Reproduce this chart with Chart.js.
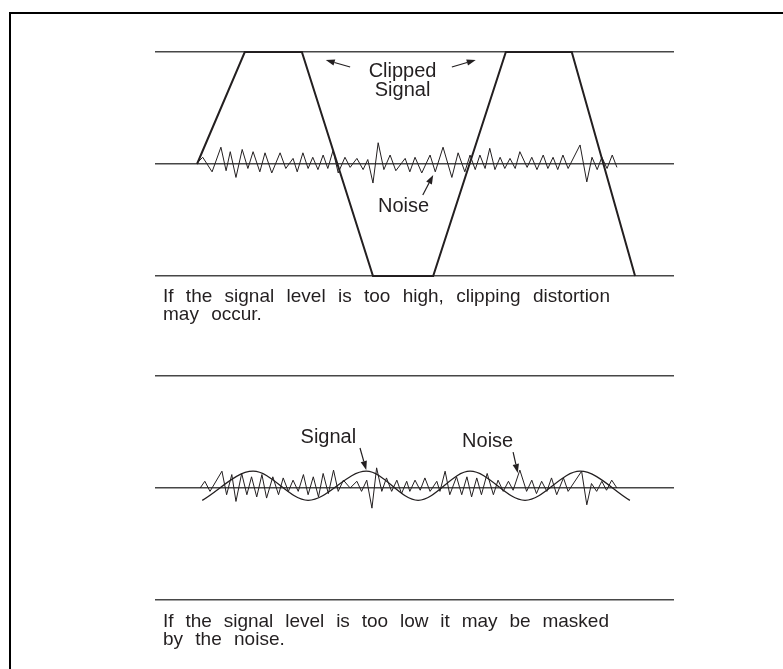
<!DOCTYPE html>
<html>
<head>
<meta charset="utf-8">
<script src="https://cdn.jsdelivr.net/npm/chart.js@4.4.0/dist/chart.umd.min.js"></script>
<style>
  html, body { margin: 0; padding: 0; background: #fff; }
  body { width: 783px; height: 669px; position: relative; overflow: hidden;
         font-family: "Liberation Sans", Arial, Helvetica, sans-serif; color: #231f20; }
  .frame { position: absolute; left: 9px; top: 12px; right: -10px; bottom: -10px;
           border-top: 2px solid #000; border-left: 2px solid #000; }
  canvas { position: absolute; left: 0; }
  #top { top: 0; }
  #bottom { top: 330px; }
  .caption { position: absolute; left: 163px; font-size: 19px; line-height: 18px; word-spacing: 7px; }
  .caption span { display: block; white-space: nowrap; }
  .caption .full { width: 447px; white-space: normal; text-align: justify; text-align-last: justify; word-spacing: 0; }
</style>
</head>
<body>
<div class="frame"></div>
<canvas id="top" width="783" height="300"></canvas>
<canvas id="bottom" width="783" height="300"></canvas>
<div class="caption" style="top:287px">
  <span class="full">If the signal level is too high, clipping distortion</span>
  <span>may occur.</span>
</div>
<div class="caption" style="top:612px">
  <span class="full" style="width:446px">If the signal level is too low it may be masked</span>
  <span>by the noise.</span>
</div>
<script>
// time axis runs 0..100, level axis -100..100 (percent of full scale)

// top panel: clipped signal
const clippedX = [8.1, 17.3, 28.3, 42.0, 53.6, 67.6, 80.3, 92.5];
const clippedY = [0, 100, 100, -100, -100, 100, 100, -100];

const noiseTopX = [8.1, 9.2, 11.0, 12.7, 13.7, 14.5, 15.6, 16.8, 17.9, 18.9,
  20.2, 21.2, 22.5, 24.1, 25.2, 26.6, 27.4, 28.5, 29.5, 30.4,
  31.4, 32.4, 33.3, 34.3, 35.3, 36.6, 37.6, 38.9, 40.1, 41.0,
  42.0, 43.0, 44.1, 45.3, 46.4, 48.2, 49.1, 50.1, 51.4, 53.0,
  54.0, 55.5, 57.2, 58.4, 59.7, 60.7, 61.7, 62.6, 63.6, 64.5,
  65.5, 66.5, 67.4, 68.4, 69.4, 70.3, 71.7, 72.6, 73.6, 74.8,
  75.7, 76.7, 77.6, 78.6, 79.6, 81.9, 83.2, 84.2, 85.2, 86.1,
  87.1, 88.1, 89.0];
const noiseTopY = [1, 6, -7, 15, -6, 11, -12, 13, -4, 11,
  -7, 10, -8, 10, -4, 5, -7, 10, -4, 6,
  -5, 8, -4, 12, -8, 6, -3, 5, -5, 4,
  -17, 19, -5, 8, -6, 5, -7, 6, -8, 8,
  -7, 15, -12, 10, -7, 8, -5, 8, -4, 14,
  -5, 6, -4, 5, -4, 11, -3, 6, -5, 8,
  -4, 6, -5, 8, -4, 17, -16, 6, -5, 6,
  -4, 8, -3];

// bottom panel: low signal
const sineX = [9.1, 18.9, 29.5, 40.7, 50.7, 60.7, 71.3, 81.9, 91.5];
const sineY = [-11, 15, -11, 15, -11, 15, -11, 15, -11];

const noiseLowX = [8.7, 9.6, 10.6, 12.9, 13.8, 14.8, 15.6, 16.7, 17.7, 18.6,
  19.6, 20.6, 21.5, 22.7, 23.8, 24.7, 25.7, 26.6, 27.6, 28.6,
  29.5, 30.5, 31.5, 32.4, 33.4, 34.4, 35.3, 36.3, 37.6, 38.9,
  39.8, 40.8, 41.8, 42.7, 43.7, 44.6, 45.6, 46.6, 47.5, 48.5,
  49.1, 50.1, 51.1, 52.0, 53.0, 54.3, 54.9, 55.9, 56.8, 58.1,
  59.1, 60.1, 61.0, 62.0, 62.9, 64.0, 65.2, 66.1, 67.1, 68.1,
  69.0, 70.3, 71.6, 72.6, 73.5, 74.5, 75.5, 76.4, 77.4, 78.7,
  79.6, 82.2, 83.2, 84.1, 85.1, 86.1, 87.0, 88.0, 89.0];
const noiseLowY = [0, 6, -3, 15, -6, 12, -12, 13, -6, 10,
  -8, 12, -9, 10, -6, 9, -3, 7, -3, 12,
  -6, 10, -8, 13, -5, 16, -3, 7, 0, 6,
  -3, 7, -18, 18, -3, 9, -3, 7, -5, 6,
  -3, 7, -2, 9, -3, 6, -3, 15, -6, 10,
  -6, 10, -8, 9, -6, 13, -6, 7, -3, 6,
  -2, 16, -3, 7, -5, 6, -3, 9, -6, 9,
  -3, 15, -15, 4, -3, 6, -2, 7, 0];

const levelTicks = [-100, 0, 100];

const ink = '#231f20';

function pairs(xs, ys) {
  return xs.map((x, i) => ({ x: x, y: ys[i] }));
}

// labels and arrows placed in data units
const notesPlugin = {
  id: 'notes',
  afterDatasetsDraw(chart, args, opts) {
    const { ctx } = chart;
    const xs = chart.scales.x, ys = chart.scales.y;
    ctx.save();
    ctx.fillStyle = ink;
    ctx.strokeStyle = ink;
    ctx.font = '20px "Liberation Sans", Arial, sans-serif';
    ctx.textAlign = 'center';
    ctx.textBaseline = 'alphabetic';
    opts.labels.forEach(l => {
      l.text.forEach((t, i) => {
        ctx.fillText(t, xs.getPixelForValue(l.x), ys.getPixelForValue(l.y) + i * 19);
      });
    });
    ctx.lineWidth = 1.2;
    opts.arrows.forEach(a => {
      const x0 = xs.getPixelForValue(a.from[0]), y0 = ys.getPixelForValue(a.from[1]);
      const x1 = xs.getPixelForValue(a.to[0]), y1 = ys.getPixelForValue(a.to[1]);
      const ang = Math.atan2(y1 - y0, x1 - x0);
      const len = 9, half = 3.2;
      const bx = x1 - len * Math.cos(ang), by = y1 - len * Math.sin(ang);
      ctx.beginPath();
      ctx.moveTo(x0, y0);
      ctx.lineTo(bx, by);
      ctx.stroke();
      ctx.beginPath();
      ctx.moveTo(x1, y1);
      ctx.lineTo(bx + half * Math.sin(ang), by - half * Math.cos(ang));
      ctx.lineTo(bx - half * Math.sin(ang), by + half * Math.cos(ang));
      ctx.closePath();
      ctx.fill();
    });
    ctx.restore();
  }
};

function makeChart(id, datasets, padding, notes) {
  return new Chart(document.getElementById(id), {
    type: 'line',
    data: { datasets: datasets },
    options: {
      responsive: false,
      animation: false,
      devicePixelRatio: 1,
      layout: { padding: padding },
      plugins: { legend: { display: false }, tooltip: { enabled: false }, notes: notes },
      elements: { point: { radius: 0 } },
      scales: {
        x: { type: 'linear', min: 0, max: 100, display: false },
        y: {
          min: -100, max: 100,
          afterBuildTicks: s => { s.ticks = levelTicks.map(v => ({ value: v })); },
          ticks: { display: false },
          grid: { color: '#474747', lineWidth: 1.5, drawTicks: false },
          border: { display: false }
        }
      }
    },
    plugins: [notesPlugin]
  });
}

makeChart('top', [
  { data: pairs(noiseTopX, noiseTopY), borderColor: ink, borderWidth: 1, tension: 0, clip: false },
  { data: pairs(clippedX, clippedY), borderColor: ink, borderWidth: 2, tension: 0, clip: false }
], { left: 155, right: 109, top: 52, bottom: 24 }, {
  labels: [
    { text: ['Clipped', 'Signal'], x: 47.7, y: 78 },
    { text: ['Noise'], x: 47.9, y: -42.6 }
  ],
  arrows: [
    { from: [37.6, 86.6], to: [32.9, 92.9] },
    { from: [57.2, 86.6], to: [61.8, 92.9] },
    { from: [51.6, -27.7], to: [53.6, -9.8] }
  ]
});

makeChart('bottom', [
  { data: pairs(noiseLowX, noiseLowY), borderColor: ink, borderWidth: 1, tension: 0, clip: false },
  { data: pairs(sineX, sineY), borderColor: ink, borderWidth: 1.3, cubicInterpolationMode: 'monotone', clip: false }
], { left: 155, right: 109, top: 46, bottom: 30 }, {
  labels: [
    { text: ['Signal'], x: 33.4, y: 40.4 },
    { text: ['Noise'], x: 64.1, y: 36.9 }
  ],
  arrows: [
    { from: [39.5, 35.7], to: [40.7, 16.1] },
    { from: [69.0, 32.1], to: [69.9, 13.4] }
  ]
});
</script>
</body>
</html>
